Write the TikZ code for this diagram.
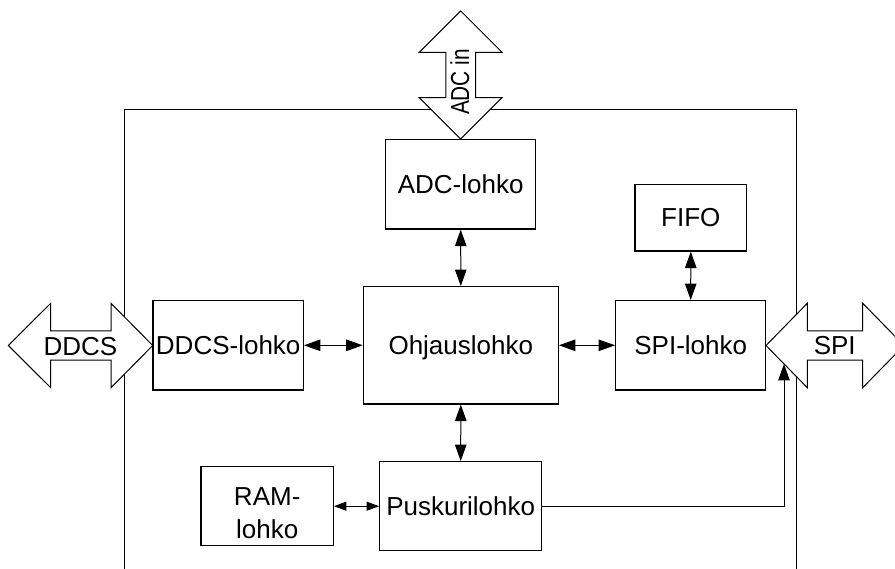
\documentclass[tikz,border=0pt]{standalone}
\usepackage{fontspec}
\setmainfont{Liberation Sans}
\usetikzlibrary{arrows.meta}

\tikzset{
  blk/.style={draw, line width=1.2pt, fill=white, inner sep=0pt,
    text height=18.6pt, text depth=0pt, font=\fontsize{26}{31}\selectfont},
  lbl/.style={inner sep=0pt, text height=18.6pt, text depth=0pt,
    font=\fontsize{26}{31}\selectfont},
  link/.style={line width=1pt, {Triangle[length=16.5pt,width=11.5pt]}-{Triangle[length=16.5pt,width=11.5pt]}},
  shortlink/.style={line width=1pt, {Triangle[length=12.5pt,width=9pt]}-{Triangle[length=12.5pt,width=9pt]}},
  feed/.style={line width=1pt, -{Triangle[length=16.5pt,width=11.5pt]}},
  frame/.style={line width=1pt},
  bus/.style={draw, line width=1pt, fill=white, line join=miter},
}

\begin{document}
\begin{tikzpicture}[x=1pt, y=-1pt]
  \useasboundingbox (0,0) rectangle (895,569);
  \clip (0,0) rectangle (895,569);

  % chip outline, open at the bottom
  \draw[frame] (124.3,569) -- (124.3,109.7) -- (796.7,109.7) -- (796.7,569);

  % ADC input bus (vertical double arrow)
  \draw[bus] (460.7,11) -- (502,52.3) -- (475.5,52.3) -- (475.5,97.7)
    -- (502,97.7) -- (460.7,139) -- (419.4,97.7) -- (445.9,97.7)
    -- (445.9,52.3) -- (419.4,52.3) -- cycle;
  \node[lbl, rotate=90] (adcin) at (459.7,82) {\scalebox{0.8}[1]{ADC in}};

  % DDCS bus (horizontal double arrow)
  \draw[bus] (8.3,345.5) -- (50.7,303.3) -- (50.7,330.8) -- (111,330.8)
    -- (111,303.3) -- (152.7,345.5) -- (111,387.7) -- (111,360.2)
    -- (50.7,360.2) -- (50.7,387.7) -- cycle;
  \node[lbl] (ddcsbus) at (80.5,346) {DDCS};

  % SPI bus (horizontal double arrow, running off the right edge)
  \draw[bus] (766,345.5) -- (807.3,303.3) -- (807.3,330.8) -- (862.7,330.8)
    -- (862.7,303.3) -- (904,345.5) -- (862.7,387.7) -- (862.7,360.2)
    -- (807.3,360.2) -- (807.3,387.7) -- cycle;
  \node[lbl] (spibus) at (834.7,345.5) {SPI};
  \coordinate (spiin) at (784,363.9);

  % functional blocks
  \node[blk, minimum width=150pt,   minimum height=89.7pt]  (adc)  at (460.7,184.2) {ADC-lohko};
  \node[blk, minimum width=111.7pt, minimum height=66.7pt]  (fifo) at (690.8,217.7) {FIFO};
  \node[blk, minimum width=150.3pt, minimum height=89.3pt]  (ddcs) at (228.2,345.3) {DDCS-lohko};
  \node[blk, minimum width=195pt,   minimum height=117.3pt] (ohj)  at (460.8,345.3) {Ohjauslohko};
  \node[blk, minimum width=150pt,   minimum height=89.3pt]  (spi)  at (690.7,345.3) {SPI-lohko};
  \node[blk, minimum width=132.3pt, minimum height=79pt]    (ram)  at (267.2,506.2) {};
  \node[inner sep=0pt, align=center, font=\fontsize{26}{33.6}\selectfont]
    (ramtext) at (267.2,513) {RAM-\\lohko};
  \node[blk, minimum width=162pt,   minimum height=89pt]    (pusk) at (460.7,506.2) {Puskurilohko};

  % connections between blocks
  \draw[link] (adc.south)  -- (ohj.north);
  \draw[link] (fifo.south) -- (spi.north);
  \draw[link] (ddcs.east)  -- (ohj.west);
  \draw[link] (ohj.east)   -- (spi.west);
  \draw[link] (ohj.south)  -- (pusk.north);
  \draw[shortlink] (ram.east) -- (ram.east -| pusk.west);
  \draw[feed] (pusk.east) -| (spiin);
\end{tikzpicture}
\end{document}
